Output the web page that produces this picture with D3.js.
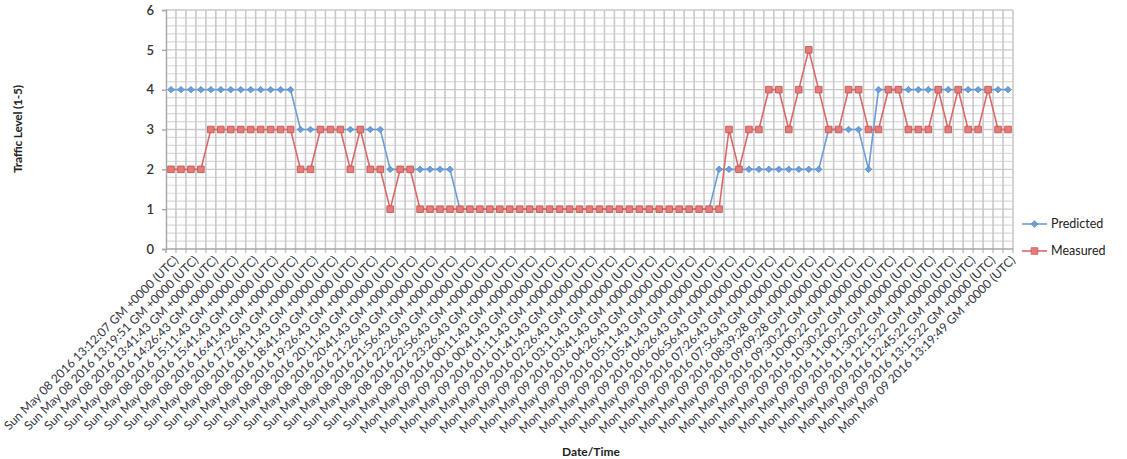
<!DOCTYPE html>
<html>
<head>
<meta charset="utf-8">
<script src="https://cdn.jsdelivr.net/npm/d3@7/dist/d3.min.js"></script>
<style>
  html, body { margin: 0; padding: 0; background: #fff; }
  svg { display: block; font-family: Lato, "Open Sans", "DejaVu Sans", sans-serif; }
</style>
</head>
<body>
<svg id="chart" width="1127" height="459"></svg>
<script>
// ---- data ----
const seriesNames = ["Predicted", "Measured"];

const predicted = [
  4,4,4,4,4,4,4,4,4,4,4,4,4,
  3,3,3,3,3,3,3,3,3,
  2,2,2,2,2,2,2,
  1,1,1,1,1,1,1,1,1,1,1,1,1,1,1,1,1,1,1,1,1,1,1,1,1,1,
  2,2,2,2,2,2,2,2,2,2,2,
  3,3,3,3,
  2,
  4,4,4,4,4,4,4,4,4,4,4,4,4,4
];

const measured = [
  2,2,2,2,
  3,3,3,3,3,3,3,3,3,
  2,2,3,3,3,2,3,2,2,1,2,2,
  1,1,1,1,1,1,1,1,1,1,1,1,1,1,1,1,1,1,1,1,1,1,1,1,1,1,1,1,1,1,1,
  3,2,3,3,4,4,3,4,5,4,3,3,4,4,3,3,4,4,3,3,3,4,3,4,3,3,4,3,3
];

// one label every second category
const tickLabels = [
  "Sun May 08 2016 13:12:07 GM +0000 (UTC)",
  "Sun May 08 2016 13:19:51 GM +0000 (UTC)",
  "Sun May 08 2016 13:41:43 GM +0000 (UTC)",
  "Sun May 08 2016 14:26:43 GM +0000 (UTC)",
  "Sun May 08 2016 15:11:43 GM +0000 (UTC)",
  "Sun May 08 2016 15:41:43 GM +0000 (UTC)",
  "Sun May 08 2016 16:41:43 GM +0000 (UTC)",
  "Sun May 08 2016 17:26:43 GM +0000 (UTC)",
  "Sun May 08 2016 18:11:43 GM +0000 (UTC)",
  "Sun May 08 2016 18:41:43 GM +0000 (UTC)",
  "Sun May 08 2016 19:26:43 GM +0000 (UTC)",
  "Sun May 08 2016 20:11:43 GM +0000 (UTC)",
  "Sun May 08 2016 20:41:43 GM +0000 (UTC)",
  "Sun May 08 2016 21:26:43 GM +0000 (UTC)",
  "Sun May 08 2016 21:56:43 GM +0000 (UTC)",
  "Sun May 08 2016 22:26:43 GM +0000 (UTC)",
  "Sun May 08 2016 22:56:43 GM +0000 (UTC)",
  "Sun May 08 2016 23:26:43 GM +0000 (UTC)",
  "Mon May 09 2016 00:11:43 GM +0000 (UTC)",
  "Mon May 09 2016 00:41:43 GM +0000 (UTC)",
  "Mon May 09 2016 01:11:43 GM +0000 (UTC)",
  "Mon May 09 2016 01:41:43 GM +0000 (UTC)",
  "Mon May 09 2016 02:26:43 GM +0000 (UTC)",
  "Mon May 09 2016 03:11:43 GM +0000 (UTC)",
  "Mon May 09 2016 03:41:43 GM +0000 (UTC)",
  "Mon May 09 2016 04:26:43 GM +0000 (UTC)",
  "Mon May 09 2016 05:11:43 GM +0000 (UTC)",
  "Mon May 09 2016 05:41:43 GM +0000 (UTC)",
  "Mon May 09 2016 06:26:43 GM +0000 (UTC)",
  "Mon May 09 2016 06:56:43 GM +0000 (UTC)",
  "Mon May 09 2016 07:26:43 GM +0000 (UTC)",
  "Mon May 09 2016 07:56:43 GM +0000 (UTC)",
  "Mon May 09 2016 08:39:28 GM +0000 (UTC)",
  "Mon May 09 2016 09:09:28 GM +0000 (UTC)",
  "Mon May 09 2016 09:30:22 GM +0000 (UTC)",
  "Mon May 09 2016 10:00:22 GM +0000 (UTC)",
  "Mon May 09 2016 10:30:22 GM +0000 (UTC)",
  "Mon May 09 2016 11:00:22 GM +0000 (UTC)",
  "Mon May 09 2016 11:30:22 GM +0000 (UTC)",
  "Mon May 09 2016 12:15:22 GM +0000 (UTC)",
  "Mon May 09 2016 12:45:22 GM +0000 (UTC)",
  "Mon May 09 2016 13:15:22 GM +0000 (UTC)",
  "Mon May 09 2016 13:19:49 GM +0000 (UTC)"
];

const yTicks = [0, 1, 2, 3, 4, 5, 6];
const labelEvery = 2;

// ---- layout ----
const plot = { left: 166, right: 1013, top: 10, bottom: 249 };
const colors = {
  predLine: "#6c9ed8", predFill: "#6b9fda", predStroke: "#4f81bd",
  measLine: "#d9686a", measFill: "#e67c7a", measStroke: "#c0504d",
  grid: "#c9c9c9", gridMinor: "#dadada", axis: "#a6a6a6", text: "#333"
};

const svg = d3.select("#chart");
const n = predicted.length;
const idx = d3.range(n);

const x = d3.scaleBand().domain(idx).range([plot.left, plot.right]).paddingInner(0).paddingOuter(0);
const cx = i => x(i) + x.bandwidth() / 2;
const y = d3.scaleLinear().domain([0, 6]).range([plot.bottom, plot.top]);

// minor horizontal gridlines
const minor = d3.range(0, 6.0001, 0.2).filter(v => Math.abs(v - Math.round(v)) > 1e-6);
svg.append("g").selectAll("line").data(minor).join("line")
  .attr("x1", plot.left).attr("x2", plot.right)
  .attr("y1", d => y(d)).attr("y2", d => y(d))
  .attr("stroke", colors.gridMinor).attr("stroke-width", 1.2);

// vertical gridlines at category boundaries
const bounds = d3.range(1, n + 1);
svg.append("g").selectAll("line").data(bounds).join("line")
  .attr("x1", d => x(d - 1) + x.bandwidth()).attr("x2", d => x(d - 1) + x.bandwidth())
  .attr("y1", plot.top).attr("y2", plot.bottom + 4)
  .attr("stroke", colors.grid).attr("stroke-width", 1.6);

// major horizontal gridlines
svg.append("g").selectAll("line").data(yTicks.slice(1)).join("line")
  .attr("x1", plot.left).attr("x2", plot.right)
  .attr("y1", d => y(d)).attr("y2", d => y(d))
  .attr("stroke", colors.grid).attr("stroke-width", 1.4);

// y axis
const yAxis = svg.append("g").attr("transform", `translate(${plot.left},0)`)
  .call(d3.axisLeft(y).tickValues(yTicks).tickSize(4).tickPadding(8).tickFormat(d3.format("d")));
yAxis.select(".domain").attr("stroke", colors.axis).attr("stroke-width", 1.4);
yAxis.selectAll(".tick line").attr("stroke", colors.axis).attr("stroke-width", 1.4);
yAxis.selectAll(".tick text").attr("fill", colors.text).attr("font-size", 13)
  .attr("font-weight", 600).attr("font-family", "Lato, sans-serif");

// x axis line
svg.append("line").attr("x1", plot.left).attr("x2", plot.right)
  .attr("y1", plot.bottom).attr("y2", plot.bottom)
  .attr("stroke", colors.axis).attr("stroke-width", 1.4);
svg.append("line").attr("x1", plot.left).attr("x2", plot.left)
  .attr("y1", plot.bottom).attr("y2", plot.bottom + 4)
  .attr("stroke", colors.axis).attr("stroke-width", 1.4);

// x tick labels (every second category)
const lblIdx = idx.filter(i => i % labelEvery === 0);
svg.append("g").selectAll("text").data(lblIdx).join("text")
  .attr("transform", i => `translate(${cx(i) + 5},${plot.bottom + 9}) rotate(-45)`)
  .attr("text-anchor", "end")
  .attr("dy", "0.35em")
  .attr("font-size", 12.1)
  .attr("fill", "#34343f")
  .text(i => tickLabels[i / labelEvery]);

// lines
const line = d3.line().x((d, i) => cx(i)).y(d => y(d));
svg.append("path").datum(predicted).attr("d", line)
  .attr("fill", "none").attr("stroke", colors.predLine).attr("stroke-width", 1.6);
svg.append("g").selectAll("path").data(predicted).join("path")
  .attr("d", d3.symbol(d3.symbolSquare, 22)())
  .attr("transform", (d, i) => `translate(${cx(i)},${y(d)}) rotate(45)`)
  .attr("fill", colors.predFill).attr("stroke", colors.predStroke).attr("stroke-width", 0.6);

svg.append("path").datum(measured).attr("d", line)
  .attr("fill", "none").attr("stroke", colors.measLine).attr("stroke-width", 1.6);
svg.append("g").selectAll("path").data(measured).join("path")
  .attr("d", d3.symbol(d3.symbolSquare, 44)())
  .attr("transform", (d, i) => `translate(${cx(i)},${y(d)})`)
  .attr("fill", colors.measFill).attr("stroke", colors.measStroke).attr("stroke-width", 0.8);

// axis titles
svg.append("text").attr("transform", "translate(22,129) rotate(-90)")
  .attr("text-anchor", "middle").attr("font-size", 12).attr("font-weight", 700)
  .attr("textLength", 88).attr("lengthAdjust", "spacing")
  .attr("fill", "#222").text("Traffic Level (1-5)");
svg.append("text").attr("x", 591).attr("y", 456)
  .attr("text-anchor", "middle").attr("font-size", 12).attr("font-weight", 700)
  .attr("fill", "#222").text("Date/Time");

// legend
const legend = svg.append("g");
const legendY = [224, 251];
seriesNames.forEach((name, k) => {
  const g = legend.append("g").attr("transform", `translate(1022,${legendY[k]})`);
  g.append("line").attr("x1", 0).attr("x2", 25).attr("y1", 0).attr("y2", 0)
    .attr("stroke", k === 0 ? colors.predLine : colors.measLine).attr("stroke-width", 1.6);
  g.append("path")
    .attr("d", d3.symbol(d3.symbolSquare, k === 0 ? 22 : 44)())
    .attr("transform", `translate(12.5,0) rotate(${k === 0 ? 45 : 0})`)
    .attr("fill", k === 0 ? colors.predFill : colors.measFill)
    .attr("stroke", k === 0 ? colors.predStroke : colors.measStroke).attr("stroke-width", 0.7);
  g.append("text").attr("x", 29).attr("y", 0).attr("dy", "0.35em")
    .attr("font-size", 12.5).attr("fill", "#222").text(name);
});
</script>
</body>
</html>
